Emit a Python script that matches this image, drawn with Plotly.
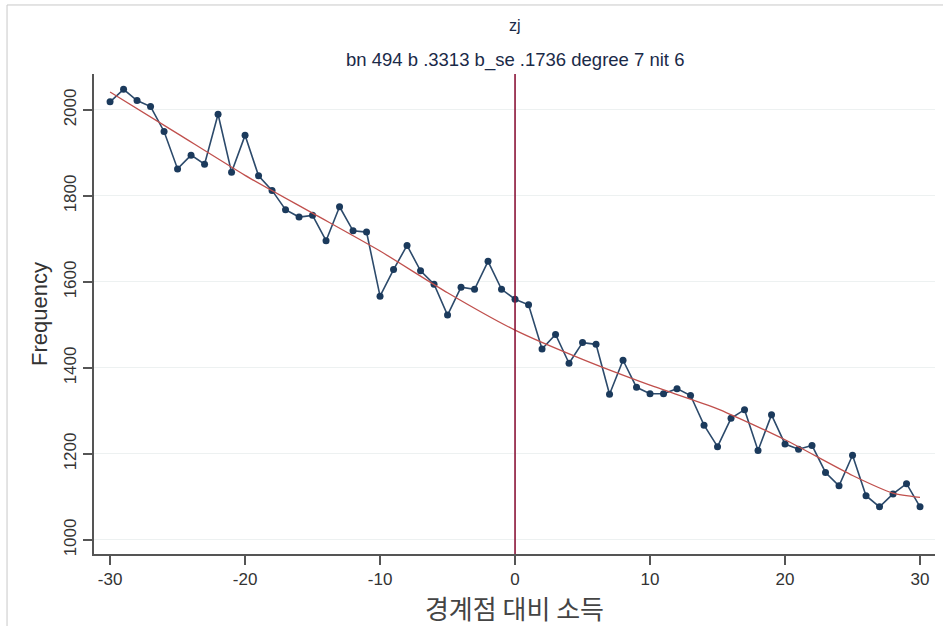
import plotly.graph_objects as go

# Observed frequency by income distance from the threshold
bins = list(range(-30, 31))
freq = [
    2019, 2048, 2022, 2008, 1950, 1863, 1895, 1874, 1990, 1855,
    1941, 1847, 1813, 1768, 1751, 1755, 1696, 1775, 1719, 1716,
    1567, 1629, 1685, 1626, 1595, 1523, 1588, 1583, 1648, 1583,
    1560, 1547, 1444, 1478, 1411, 1459, 1455, 1339, 1418, 1355,
    1340, 1340, 1352, 1336, 1267, 1217, 1283, 1303, 1208, 1291,
    1223, 1211, 1220, 1157, 1126, 1197, 1103, 1077, 1107, 1131,
    1077,
]

# Counterfactual polynomial fit (degree 7)
fit_x = [-30, -25, -20, -15, -10, -5, 0, 5, 10, 15, 20, 25, 28, 30]
fit_y = [2042, 1945, 1848, 1760, 1672, 1575, 1488, 1420, 1360, 1305, 1233, 1150, 1109, 1099]

x_ticks = [-30, -20, -10, 0, 10, 20, 30]
x_tick_labels = ["-30", "-20", "-10", "0", "10", "20", "30"]
y_ticks = [1000, 1200, 1400, 1600, 1800, 2000]
y_tick_labels = ["1000", "1200", "1400", "1600", "1800", "2000"]

title_text = "zj"
subtitle_text = "bn 494 b .3313 b_se .1736 degree 7 nit 6"
x_title = "경계점 대비 소득"
y_title = "Frequency"

FONT = "Liberation Sans, Arial, sans-serif"

fig = go.Figure()

fig.add_trace(go.Scatter(
    x=bins, y=freq, mode="lines+markers",
    line=dict(color="#2c4a6b", width=1.6),
    marker=dict(color="#1b3a5c", size=7),
    hoverinfo="x+y", showlegend=False,
))

fig.add_trace(go.Scatter(
    x=fit_x, y=fit_y, mode="lines",
    line=dict(color="#c0504d", width=1.3, shape="spline", smoothing=0.6),
    hoverinfo="skip", showlegend=False,
))

# Threshold marker
fig.add_shape(type="line", xref="x", yref="paper", x0=0, x1=0, y0=0, y1=1,
              line=dict(color="#8b1538", width=1.6), layer="above")

# Outer frame lines
fig.add_shape(type="line", xref="paper", yref="paper",
              x0=-0.1034, x1=1.2, y0=1.1438, y1=1.1438,
              line=dict(color="#c8c8c8", width=1))
fig.add_shape(type="line", xref="paper", yref="paper",
              x0=-0.1034, x1=-0.1034, y0=-0.2, y1=1.1438,
              line=dict(color="#c8c8c8", width=1))

fig.add_annotation(text=title_text, xref="x", yref="paper", x=0, y=1.102,
                   yanchor="middle", showarrow=False,
                   font=dict(family=FONT, size=16, color="#1a2a48"))
fig.add_annotation(text=subtitle_text, xref="x", yref="paper", x=0, y=1.029,
                   yanchor="middle", showarrow=False,
                   font=dict(family=FONT, size=18.5, color="#1a2a48"))

fig.update_layout(
    width=943, height=626,
    margin=dict(l=94, r=8, t=74, b=72),
    paper_bgcolor="white", plot_bgcolor="white",
    font=dict(family=FONT, color="#333333"),
    xaxis=dict(
        range=[-31.19, 31.11], tickvals=x_ticks, ticktext=x_tick_labels,
        showgrid=False, zeroline=False,
        showline=True, linecolor="#555555", linewidth=2,
        ticks="outside", ticklen=9, tickwidth=1.5, tickcolor="#555555",
        tickfont=dict(family=FONT, size=17, color="#333333"),
        title=dict(text=x_title, standoff=0,
                   font=dict(family="Noto Sans CJK KR", size=26, color="#444444")),
    ),
    yaxis=dict(
        range=[967.4, 2083.7], tickvals=y_ticks, ticktext=y_tick_labels,
        tickangle=-90,
        showgrid=True, gridcolor="#edf1f1", gridwidth=1,
        zeroline=False,
        showline=True, linecolor="#555555", linewidth=2,
        ticks="outside", ticklen=9, tickwidth=1.5, tickcolor="#555555",
        tickfont=dict(family=FONT, size=17, color="#333333"),
        title=dict(text=y_title, standoff=8,
                   font=dict(family=FONT, size=22, color="#333333")),
    ),
)

fig.write_html("out.html")
